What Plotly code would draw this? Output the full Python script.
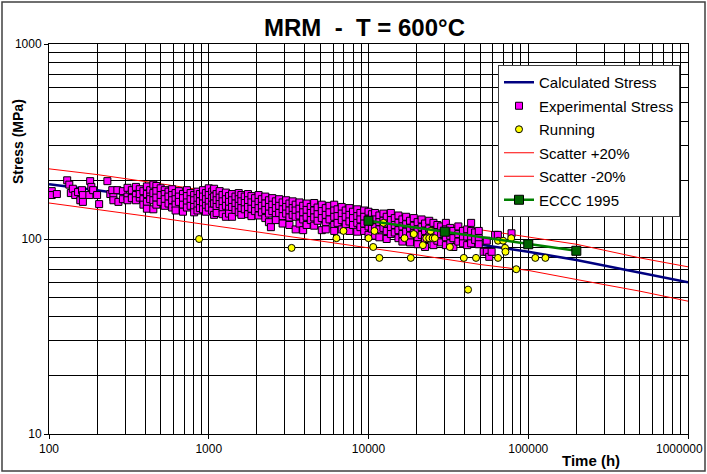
import plotly.graph_objects as go

FONT = "Liberation Sans, Arial, sans-serif"

# ---------------- data ----------------
calc_time = [100, 200, 500, 1000, 2000, 5000, 10000, 20000, 50000, 100000, 200000, 500000, 1000000]
calc_stress = [191, 178, 160, 147, 136, 123, 113, 104, 93, 86, 78, 67, 60]
scatter_hi = [229, 214, 192, 176, 163, 148, 136, 125, 112, 103, 94, 80, 72]
scatter_lo = [153, 142, 128, 118, 109, 98, 90, 83, 74, 69, 62, 54, 48]

eccc_time = [10000, 30000, 100000, 200000]
eccc_stress = [124, 109, 94, 87]

run_time = [870, 3300, 6300, 6970, 10000, 10700, 10900, 11700, 12400, 16800, 18400, 19200,
            21900, 23000, 24000, 24500, 25200, 26000, 32300, 39500, 42000, 47100, 64700,
            64700, 69600, 71600, 72000, 78200, 84100, 110700, 128000]
run_stress = [100, 90, 101, 110, 101, 91, 110, 80, 121, 101, 80, 106,
              93, 101, 101, 110, 101, 101, 91, 80, 55, 80, 80,
              98, 98, 90, 86, 101, 70, 80, 80]

exp_time_groups = [104, 112, 130, 134, 137, 141, 146, 152, 157, 161, 163, 179, 181, 184, 189,
                   200, 206, 232, 242, 249, 253, 268, 272,
                   290, 310, 330, 350, 370, 390, 410, 430, 450, 470, 500, 530, 560, 590, 620,
                   650, 690, 730, 770, 810, 850, 880,
                   920, 960, 1000, 1050, 1080, 1120, 1170, 1220, 1280, 1340, 1400, 1470, 1540,
                   1600, 1680, 1760, 1850, 1950, 2050, 2150, 2260, 2380, 2450, 2500, 2630,
                   2760, 2900, 3050, 3200, 3350,
                   3500, 3700, 3900, 4100, 4350, 4570, 4800, 5100, 5400, 5700, 6100, 6400,
                   6800, 7200, 7600, 8000, 8500, 8900,
                   9400, 10000, 10500, 11000, 11700, 12400, 13000, 13800, 14600, 15400, 16300,
                   17200, 18200, 19200, 20300, 21500, 22600, 24000, 25500, 27000,
                   28500, 30500, 32500, 34000, 36500, 39000, 41500, 43900, 46500, 49000,
                   52600, 55000, 57000, 59000, 62000, 64500, 78600]
exp_stress_groups = [[176, 168], [170], [200], [190], [172], [181], [168], [174], [158], [178],
                     [168, 155], [168], [198], [185], [178],
                     [168], [151], [198], [170], [178], [164, 158], [178], [155],
                     [176, 160], [183, 165, 158], [172, 162, 178], [185, 168, 158], [180, 163, 170],
                     [176, 160, 150], [186, 170, 155, 143], [178, 165, 160], [190, 172, 158, 142],
                     [187, 176, 163, 150], [182, 168, 155], [178, 170, 160, 148], [175, 165, 152],
                     [180, 168, 158, 145], [172, 160, 150, 140], [176, 165, 155], [170, 162, 150, 138],
                     [178, 166, 154, 145], [172, 160, 148], [168, 158, 146, 137], [175, 162, 150, 140],
                     [170, 156, 144],
                     [178, 165, 152, 142], [172, 160, 148, 138], [182, 168, 155, 145], [175, 162, 150, 140],
                     [181, 165, 152, 133], [170, 158, 146, 136], [176, 163, 151], [168, 156, 144, 134],
                     [173, 160, 148, 130], [166, 155, 143, 135], [170, 158, 146, 130], [165, 152, 141],
                     [172, 160, 148, 137], [168, 156, 144, 133], [165, 153, 142], [170, 158, 146, 134],
                     [166, 154, 143, 131], [162, 150, 139], [168, 155, 144, 132], [160, 148, 137],
                     [165, 152, 141, 128], [158, 146, 135, 122], [115], [162, 150, 139],
                     [156, 144, 133, 125], [160, 148, 136], [154, 142, 131, 120], [158, 146, 135],
                     [152, 140, 129, 118], [156, 144, 133],
                     [150, 140, 130, 112], [154, 143, 132, 120], [148, 137, 126, 111], [152, 141, 130, 118],
                     [146, 136, 125], [153, 140, 129, 117], [145, 134, 124], [150, 139, 128, 111],
                     [144, 133, 122, 112], [148, 137, 126], [150, 140, 130, 118, 110], [142, 131, 121],
                     [146, 135, 125, 112], [140, 130, 119], [144, 133, 123, 110], [138, 128, 118],
                     [142, 131, 121, 109], [136, 126, 115],
                     [140, 130, 120, 110], [138, 127, 116, 105], [134, 124, 113], [136, 126, 115, 104],
                     [132, 122, 112, 102], [135, 124, 114], [130, 120, 110, 100], [136, 125, 115, 106],
                     [128, 118, 108], [132, 121, 111, 101], [126, 116, 106, 97], [130, 119, 109],
                     [124, 114, 104, 96], [128, 117, 107], [122, 112, 102, 94], [126, 115, 105],
                     [120, 110, 100, 91], [124, 113, 103], [121, 110, 100, 93], [118, 108, 98],
                     [116, 106, 96], [121, 112, 102, 93], [114, 104, 95], [110, 101, 91], [116, 106, 97],
                     [110, 101, 95], [112, 103, 93], [121, 110, 101, 95], [108, 99], [110, 101, 94],
                     [86], [98, 86], [81], [86], [105], [105], [107]]

x_ticks = [100, 1000, 10000, 100000, 1000000]
y_ticks = [10, 100, 1000]

exp_time = []
exp_stress = []
for t, ss in zip(exp_time_groups, exp_stress_groups):
    for s in ss:
        exp_time.append(t)
        exp_stress.append(s)

minor_x = [m * 10 ** d for d in range(2, 6) for m in range(2, 10)]
minor_y = [m * 10 ** d for d in range(1, 3) for m in range(2, 10)]

fig = go.Figure()
fig.add_trace(go.Scatter(x=calc_time, y=calc_stress, mode="lines", name="Calculated Stress",
                         line=dict(color="#000080", width=2.5), legendrank=1, legendgroup="a"))
fig.add_trace(go.Scatter(x=calc_time, y=scatter_hi, mode="lines", name="Scatter +20%",
                         line=dict(color="#FF0000", width=1), legendrank=4, legendgroup="d"))
fig.add_trace(go.Scatter(x=calc_time, y=scatter_lo, mode="lines", name="Scatter -20%",
                         line=dict(color="#FF0000", width=1), legendrank=5, legendgroup="e"))
fig.add_trace(go.Scatter(x=exp_time, y=exp_stress, mode="markers", name="Experimental Stress",
                         marker=dict(symbol="square", size=7, color="#FF00FF",
                                     line=dict(color="#000000", width=1)),
                         legendrank=2, legendgroup="b"))
fig.add_trace(go.Scatter(x=run_time, y=run_stress, mode="markers", name="Running",
                         marker=dict(symbol="circle", size=7, color="#FFFF00",
                                     line=dict(color="#000000", width=1)),
                         legendrank=3, legendgroup="c"))
fig.add_trace(go.Scatter(x=eccc_time, y=eccc_stress, mode="lines+markers", name="ECCC 1995",
                         line=dict(color="#008000", width=2.5),
                         marker=dict(symbol="square", size=9, color="#006400",
                                     line=dict(color="#000000", width=1)),
                         legendrank=6, legendgroup="f"))

L, R, T, B = 49, 19, 44, 40
W, H = 707, 474
pw, ph = W - L - R, H - T - B

def px(xp):
    return (xp - L) / pw

def py(yp):
    return (H - B - yp) / ph

# last x tick label drawn right-aligned so it stays inside the page
x_ticktext = [str(v) for v in x_ticks[:-1]] + [""]

fig.update_layout(
    width=W, height=H,
    margin=dict(l=L, r=R, t=T, b=B, autoexpand=False),
    paper_bgcolor="white", plot_bgcolor="white",
    font=dict(family=FONT, size=12, color="#000000"),
    showlegend=True,
    legend=dict(x=px(498), y=py(65), xanchor="left", yanchor="top",
                bgcolor="white", bordercolor="#404040", borderwidth=1,
                font=dict(family=FONT, size=15, color="#000000"),
                traceorder="grouped", tracegroupgap=1),
    xaxis=dict(type="log", range=[2, 6], tickvals=x_ticks, ticktext=x_ticktext,
               showgrid=True, gridcolor="#000000", gridwidth=1, automargin=False,
               minor=dict(tickvals=minor_x, showgrid=True, gridcolor="#000000", gridwidth=1, ticks=""),
               showline=True, linecolor="#000000", linewidth=1, mirror=True,
               ticks="outside", ticklen=4, tickcolor="#000000",
               tickfont=dict(family=FONT, size=12), zeroline=False),
    yaxis=dict(type="log", range=[1, 3], tickvals=y_ticks, ticktext=[str(v) for v in y_ticks],
               showgrid=True, gridcolor="#000000", gridwidth=1, automargin=False,
               minor=dict(tickvals=minor_y, showgrid=True, gridcolor="#000000", gridwidth=1, ticks=""),
               showline=True, linecolor="#000000", linewidth=1, mirror=True,
               ticks="outside", ticklen=4, tickcolor="#000000",
               tickfont=dict(family=FONT, size=12), zeroline=False),
    annotations=[
        dict(text="<b>MRM\u00a0\u00a0-\u00a0\u00a0T = 600°C</b>", xref="paper", yref="paper",
             x=px(364), y=py(28), xanchor="center", yanchor="middle", showarrow=False,
             font=dict(family=FONT, size=24, color="#000000")),
        dict(text="<b>Stress (MPa)</b>", xref="paper", yref="paper", x=px(18), y=py(142),
             xanchor="center", yanchor="middle", textangle=-90, showarrow=False,
             font=dict(family=FONT, size=14, color="#000000")),
        dict(text="<b>Time (h)</b>", xref="paper", yref="paper", x=px(591), y=py(460),
             xanchor="center", yanchor="middle", showarrow=False,
             font=dict(family=FONT, size=15, color="#000000")),
        dict(text=str(x_ticks[-1]), xref="paper", yref="paper", x=px(705), y=py(449),
             xanchor="right", yanchor="middle", showarrow=False,
             font=dict(family=FONT, size=12, color="#000000")),
    ],
    shapes=[
        dict(type="rect", xref="paper", yref="paper", x0=px(2), x1=px(705), y0=py(471), y1=py(2),
             line=dict(color="#404040", width=1.5), fillcolor="rgba(0,0,0,0)", layer="below"),
    ],
)

fig.write_html("out.html")
